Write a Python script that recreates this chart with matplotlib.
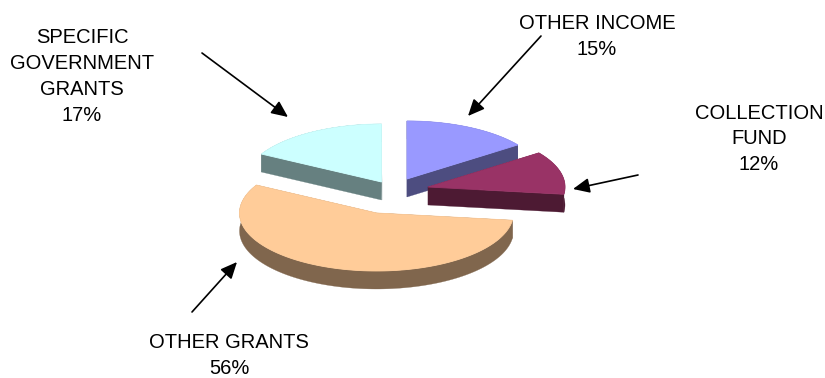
import numpy as np
import matplotlib
matplotlib.use("Agg")
import matplotlib.pyplot as plt
from matplotlib.patches import Polygon

plt.rcParams["font.family"] = ["Liberation Sans", "DejaVu Sans"]

# Income shares, clockwise from twelve o'clock
categories = ["OTHER INCOME", "COLLECTION\nFUND", "OTHER GRANTS", "SPECIFIC\nGOVERNMENT\nGRANTS"]
shares = [15, 12, 56, 17]
top_colors = ["#9999FF", "#993366", "#FFCC99", "#CCFFFF"]
side_colors = ["#4D4D80", "#4D1A33", "#80664D", "#668080"]

# Exploded apex of each slice, in canvas pixels
apexes = [(407, 179), (428, 187), (376.5, 213), (381.5, 182)]
label_pos = [(597, 36.5), (759, 139), (229, 355.5), (82, 76.5)]
arrow_tails = [(541, 36), (638, 175), (192, 312), (202, 53)]
arrow_tips = [(468, 116), (573, 189), (237, 262), (288, 117)]

RX, RY, DEPTH = 137, 58, 18

fig = plt.figure(figsize=(8.25, 3.78), dpi=100)
ax = fig.add_axes([0, 0, 1, 1])
ax.set_xlim(0, 825)
ax.set_ylim(378, 0)
ax.axis("off")


def outer_arc(apex, start, stop):
    """Squashed outer arc of a slice between two share fractions."""
    t = np.linspace(start, stop, 120) * 2 * np.pi
    return np.column_stack((apex[0] + RX * np.sin(t), apex[1] - RY * np.cos(t)))


def draw_wall(points, color):
    ax.add_patch(Polygon(points, closed=True, facecolor=color,
                         edgecolor=color, linewidth=0.2))


edges = np.cumsum([0] + shares) / sum(shares)
drop = np.array([0, DEPTH])

# Back slices first so the front ones overlap them
for i in (3, 0, 1, 2):
    apex = np.array(apexes[i], dtype=float)
    arc = outer_arc(apex, edges[i], edges[i + 1])
    # Rim, then the two cut faces running in to the apex
    draw_wall(np.vstack((arc, (arc + drop)[::-1])), side_colors[i])
    for end in (arc[0], arc[-1]):
        draw_wall([apex, end, end + drop, apex + drop], side_colors[i])
    ax.add_patch(Polygon(np.vstack(([apex], arc)), closed=True,
                         facecolor=top_colors[i], edgecolor=top_colors[i],
                         linewidth=0.6))

for name, share, pos, tail, tip in zip(categories, shares, label_pos, arrow_tails, arrow_tips):
    ax.text(pos[0], pos[1], f"{name}\n{share}%", ha="center", va="center",
            fontsize=14.5, color="black", linespacing=1.45)
    ax.annotate("", xy=tip, xytext=tail,
                arrowprops=dict(arrowstyle="-|>,head_length=1.0,head_width=0.45",
                                mutation_scale=10, lw=1.2, color="black",
                                shrinkA=0, shrinkB=0))

fig.savefig("out.png", dpi=100)
